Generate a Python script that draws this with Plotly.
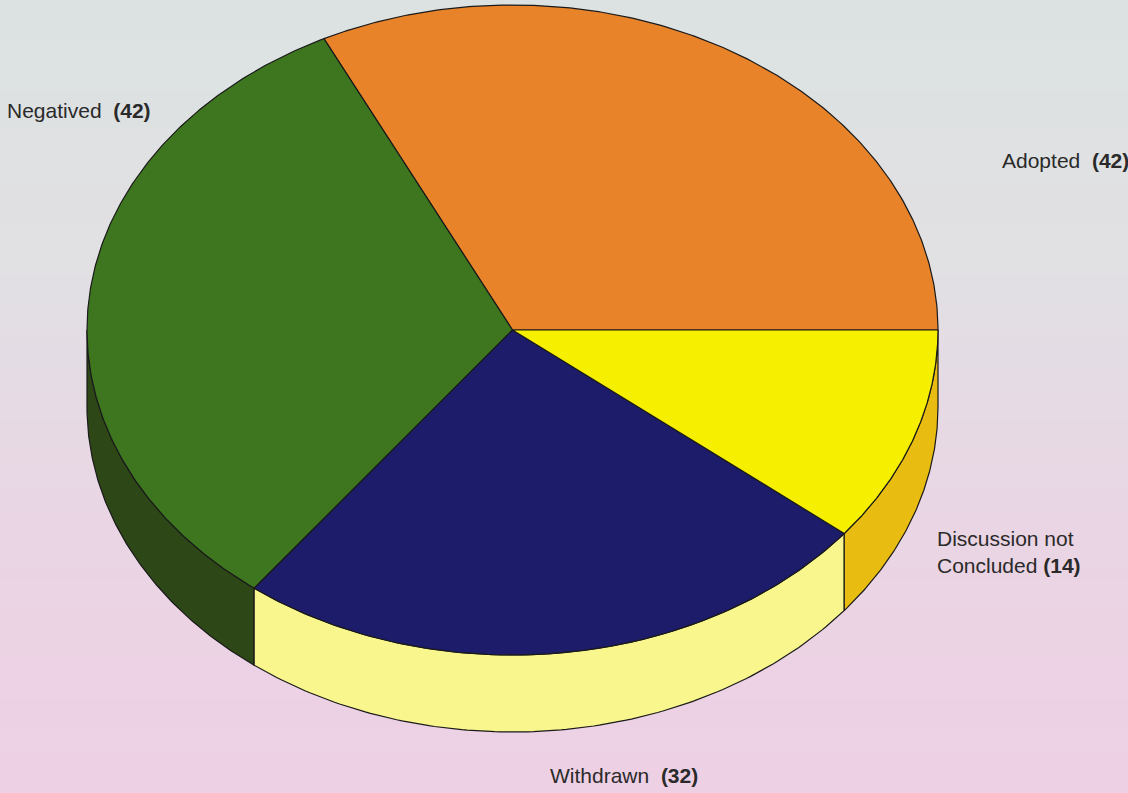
import numpy as np
import plotly.graph_objects as go

# ---- data ----
labels = ["Adopted", "Negatived", "Withdrawn", "Discussion not<br>Concluded"]
values = [42, 42, 32, 14]
top_colors = ["#E9832A", "#3D761F", "#1C1C6A", "#F6F000"]
side_colors = ["#C86A1E", "#2D4717", "#F8F68C", "#E8BC10"]

# ---- geometry (style) ----
W, H = 1128, 793
cx, cy = 512.5, H - 330
rx, ry = 425.5, 325
depth = 77
start_deg = 0.0

total = float(sum(values))
bounds = [start_deg]
for v in values:
    bounds.append(bounds[-1] + v / total * 360.0)

fig = go.Figure()

def ell(t):
    r = np.radians(t)
    return cx + rx * np.cos(r), cy + ry * np.sin(r)

# side faces (visible part: 180..360)
for i, v in enumerate(values):
    a, b = bounds[i], bounds[i + 1]
    lo, hi = max(a, 180.0), min(b, 360.0)
    if hi <= lo:
        continue
    t = np.linspace(lo, hi, 120)
    x, y = ell(t)
    xs = np.concatenate([x, x[::-1], x[:1]])
    ys = np.concatenate([y, (y - depth)[::-1], y[:1]])
    fig.add_trace(go.Scatter(x=xs, y=ys, mode="lines", fill="toself",
                             fillcolor=side_colors[i],
                             line=dict(color="#1a1a1a", width=1.2),
                             hoverinfo="skip", showlegend=False))

# top faces
for i, v in enumerate(values):
    a, b = bounds[i], bounds[i + 1]
    t = np.linspace(a, b, 240)
    x, y = ell(t)
    xs = np.concatenate([[cx], x, [cx]])
    ys = np.concatenate([[cy], y, [cy]])
    fig.add_trace(go.Scatter(x=xs, y=ys, mode="lines", fill="toself",
                             fillcolor=top_colors[i],
                             line=dict(color="#1a1a1a", width=1.2),
                             name=labels[i], hoverinfo="name", showlegend=False))

# labels
label_pos = [
    dict(x=1000, y=H - 160, xanchor="left", yanchor="middle", align="left"),
    dict(x=5, y=H - 110, xanchor="left", yanchor="middle", align="left"),
    dict(x=624, y=H - 775, xanchor="center", yanchor="middle", align="center"),
    dict(x=935, y=H - 552, xanchor="left", yanchor="middle", align="left"),
]
gaps = ["&nbsp;&nbsp;", "&nbsp;&nbsp;", "&nbsp;&nbsp;", " "]
for i, v in enumerate(values):
    fig.add_annotation(text=f"{labels[i]}{gaps[i]}<b>({v})</b>", showarrow=False,
                       font=dict(family="Liberation Sans, Arial", size=21, color="#2a2a2a"),
                       xref="x", yref="y", **label_pos[i])

# background gradient bands
bg = [(0.0, (220, 227, 226)), (0.35, (226, 224, 228)), (0.65, (234, 214, 228)), (1.0, (238, 208, 228))]
n = 60
for k in range(n):
    f = (k + 0.5) / n
    for j in range(len(bg) - 1):
        if bg[j][0] <= f <= bg[j + 1][0]:
            u = (f - bg[j][0]) / (bg[j + 1][0] - bg[j][0])
            c = [int(bg[j][1][m] + u * (bg[j + 1][1][m] - bg[j][1][m])) for m in range(3)]
            break
    fig.add_shape(type="rect", xref="paper", yref="paper", x0=0, x1=1,
                  y0=1 - (k + 1) / n - 0.002, y1=1 - k / n + 0.002,
                  fillcolor=f"rgb({c[0]},{c[1]},{c[2]})", line=dict(width=0), layer="below")

fig.update_layout(
    width=W, height=H,
    margin=dict(l=0, r=0, t=0, b=0),
    paper_bgcolor="rgb(228,220,228)",
    plot_bgcolor="rgba(0,0,0,0)",
    xaxis=dict(range=[0, W], visible=False, fixedrange=True),
    yaxis=dict(range=[0, H], visible=False, fixedrange=True),
)

fig.write_html("out.html", config={"displayModeBar": False},
               post_script="document.body.style.margin='0';document.body.style.overflow='hidden';")
